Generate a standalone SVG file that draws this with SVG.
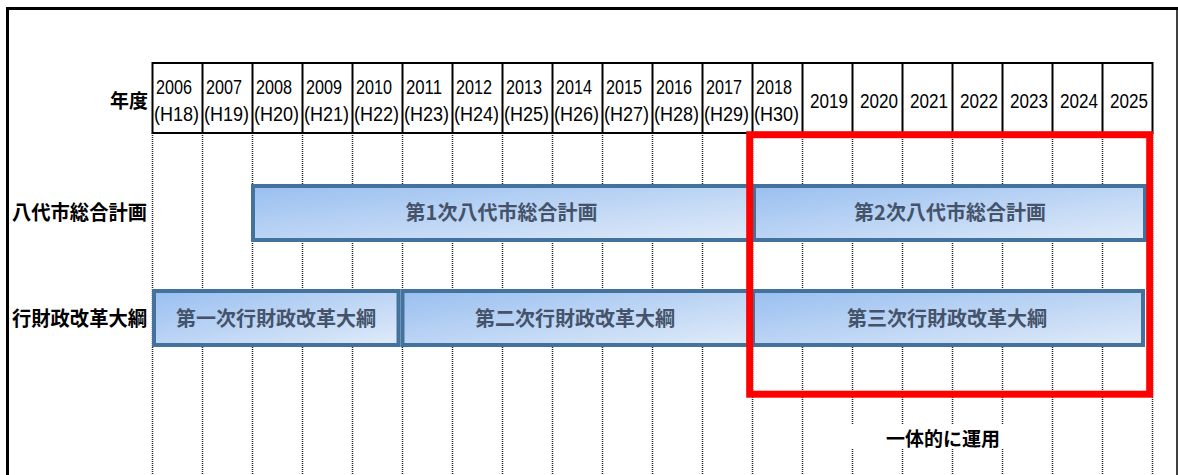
<svg xmlns="http://www.w3.org/2000/svg" width="1178" height="475" viewBox="0 0 1178 475">
<defs>
<linearGradient id="barFill" x1="0" y1="0" x2="1" y2="1">
<stop offset="0" stop-color="#99BFF0"/>
<stop offset="1" stop-color="#E0EBF9"/>
</linearGradient>
<style>
.yr{font-family:"Liberation Sans",Arial,sans-serif;font-size:19.5px;fill:#000}
.yr1{font-family:"Liberation Sans",Arial,sans-serif;font-size:20px;fill:#000;text-anchor:end}
.lbl{font-family:"Noto Sans CJK JP","Noto Sans CJK SC",sans-serif;font-weight:bold;fill:#000}
.bar{fill:url(#barFill);stroke:#44729F;stroke-width:4}
.bartxt{font-family:"Noto Sans CJK JP","Noto Sans CJK SC",sans-serif;font-weight:bold;font-size:20px;fill:#44536A;text-anchor:middle}
.grid{stroke:#222;stroke-width:1.5;stroke-dasharray:1 1}
.hdr{stroke:#000;stroke-width:2;fill:none}
</style>
</defs>
<rect x="0" y="0" width="1178" height="475" fill="#fff"/>
<!-- outer frame -->
<line x1="7.5" y1="7" x2="7.5" y2="475" stroke="#000" stroke-width="3"/>
<line x1="6" y1="8.5" x2="1178" y2="8.5" stroke="#000" stroke-width="3"/>
<line x1="1177" y1="7" x2="1177" y2="475" stroke="#000" stroke-width="1.5"/>

<g id="grid">
<path class="grid" d="M152.5 133V475M202.5 133V475M252.5 133V475M302.5 133V475M352.5 133V475M402.5 133V475M452.5 133V475M502.5 133V475M552.5 133V475M602.5 133V475M652.5 133V475M702.5 133V475M752.5 133V475M802.5 133V475M852.5 133V475M902.5 133V475M952.5 133V475M1002.5 133V475M1052.5 133V475M1102.5 133V475M1152.5 133V475"/>
</g>

<g id="header">
<path class="hdr" d="M151.5 63H1153.5M151.5 133H1153.5M152.5 63V133M202.5 63V133M252.5 63V133M302.5 63V133M352.5 63V133M402.5 63V133M452.5 63V133M502.5 63V133M552.5 63V133M602.5 63V133M652.5 63V133M702.5 63V133M752.5 63V133M802.5 63V133M852.5 63V133M902.5 63V133M952.5 63V133M1002.5 63V133M1052.5 63V133M1102.5 63V133M1152.5 63V133"/>
<text class="lbl" x="148" y="108" font-size="19" text-anchor="end">年度</text>
<g class="yr">
<text x="156" y="94" textLength="36" lengthAdjust="spacingAndGlyphs">2006</text>
<text x="154" y="120.5" textLength="45" lengthAdjust="spacingAndGlyphs">(H18)</text>
<text x="206" y="94" textLength="36" lengthAdjust="spacingAndGlyphs">2007</text>
<text x="204" y="120.5" textLength="45" lengthAdjust="spacingAndGlyphs">(H19)</text>
<text x="256" y="94" textLength="36" lengthAdjust="spacingAndGlyphs">2008</text>
<text x="254" y="120.5" textLength="45" lengthAdjust="spacingAndGlyphs">(H20)</text>
<text x="306" y="94" textLength="36" lengthAdjust="spacingAndGlyphs">2009</text>
<text x="304" y="120.5" textLength="45" lengthAdjust="spacingAndGlyphs">(H21)</text>
<text x="356" y="94" textLength="36" lengthAdjust="spacingAndGlyphs">2010</text>
<text x="354" y="120.5" textLength="45" lengthAdjust="spacingAndGlyphs">(H22)</text>
<text x="406" y="94" textLength="36" lengthAdjust="spacingAndGlyphs">2011</text>
<text x="404" y="120.5" textLength="45" lengthAdjust="spacingAndGlyphs">(H23)</text>
<text x="456" y="94" textLength="36" lengthAdjust="spacingAndGlyphs">2012</text>
<text x="454" y="120.5" textLength="45" lengthAdjust="spacingAndGlyphs">(H24)</text>
<text x="506" y="94" textLength="36" lengthAdjust="spacingAndGlyphs">2013</text>
<text x="504" y="120.5" textLength="45" lengthAdjust="spacingAndGlyphs">(H25)</text>
<text x="556" y="94" textLength="36" lengthAdjust="spacingAndGlyphs">2014</text>
<text x="554" y="120.5" textLength="45" lengthAdjust="spacingAndGlyphs">(H26)</text>
<text x="606" y="94" textLength="36" lengthAdjust="spacingAndGlyphs">2015</text>
<text x="604" y="120.5" textLength="45" lengthAdjust="spacingAndGlyphs">(H27)</text>
<text x="656" y="94" textLength="36" lengthAdjust="spacingAndGlyphs">2016</text>
<text x="654" y="120.5" textLength="45" lengthAdjust="spacingAndGlyphs">(H28)</text>
<text x="706" y="94" textLength="36" lengthAdjust="spacingAndGlyphs">2017</text>
<text x="704" y="120.5" textLength="45" lengthAdjust="spacingAndGlyphs">(H29)</text>
<text x="756" y="94" textLength="36" lengthAdjust="spacingAndGlyphs">2018</text>
<text x="754" y="120.5" textLength="45" lengthAdjust="spacingAndGlyphs">(H30)</text>
</g>
<g class="yr1">
<text x="848" y="108" textLength="38" lengthAdjust="spacingAndGlyphs">2019</text>
<text x="898" y="108" textLength="38" lengthAdjust="spacingAndGlyphs">2020</text>
<text x="948" y="108" textLength="38" lengthAdjust="spacingAndGlyphs">2021</text>
<text x="998" y="108" textLength="38" lengthAdjust="spacingAndGlyphs">2022</text>
<text x="1048" y="108" textLength="38" lengthAdjust="spacingAndGlyphs">2023</text>
<text x="1098" y="108" textLength="38" lengthAdjust="spacingAndGlyphs">2024</text>
<text x="1148" y="108" textLength="38" lengthAdjust="spacingAndGlyphs">2025</text>
</g>
</g>

<g id="row-label-1"><text class="lbl" x="12" y="220" font-size="20" textLength="135" lengthAdjust="spacingAndGlyphs">八代市総合計画</text></g>
<g id="row-label-2"><text class="lbl" x="12" y="325.5" font-size="20" textLength="135" lengthAdjust="spacingAndGlyphs">行財政改革大綱</text></g>

<g id="bar-sogo-1"><rect class="bar" x="253" y="186" width="497" height="54"/><text class="bartxt" x="501.5" y="220">第1次八代市総合計画</text></g>
<g id="bar-sogo-2"><rect class="bar" x="754" y="186" width="391" height="54"/><text class="bartxt" x="950" y="220">第2次八代市総合計画</text></g>
<g id="bar-gyo-1"><rect class="bar" x="154" y="291" width="244.5" height="54"/><text class="bartxt" x="276" y="325.5">第一次行財政改革大綱</text></g>
<g id="bar-gyo-2"><rect class="bar" x="402.5" y="291" width="346" height="54"/><text class="bartxt" x="575" y="325.5">第二次行財政改革大綱</text></g>
<g id="bar-gyo-3"><rect class="bar" x="753" y="291" width="390" height="54"/><text class="bartxt" x="947" y="325.5">第三次行財政改革大綱</text></g>

<g id="highlight"><rect x="749.7" y="134.7" width="400" height="259.5" fill="none" stroke="#FF0000" stroke-width="7"/></g>

<g id="note">
<rect x="846" y="425" width="160" height="23" fill="#fff"/>
<text class="lbl" x="886" y="445.5" font-size="19" textLength="114" lengthAdjust="spacingAndGlyphs">一体的に運用</text>
</g>
</svg>
